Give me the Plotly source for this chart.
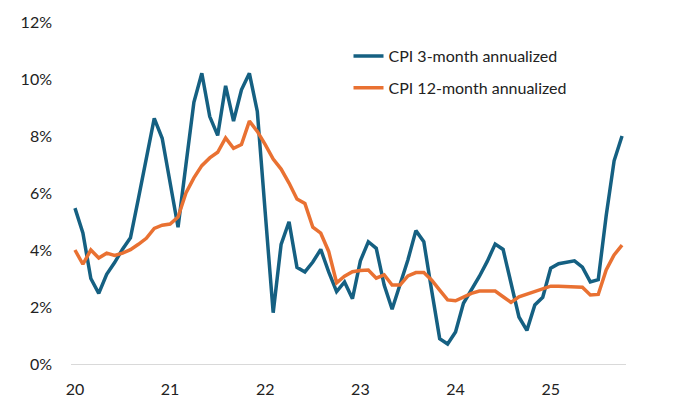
import plotly.graph_objects as go
import pandas as pd

months = [d.strftime("%Y-%m") for d in pd.date_range("2020-01-01", "2025-10-01", freq="MS")]

cpi_3m = [5.47, 4.6, 3.0, 2.48, 3.15, 3.56, 4.03, 4.43, 5.8, 7.2, 8.62, 7.92,
          6.4, 4.8, 7.0, 9.18, 10.2, 8.68, 8.02, 9.76, 8.52, 9.62, 10.2, 8.86,
          5.3, 1.8, 4.2, 4.99, 3.39, 3.23, 3.58, 4.02, 3.23, 2.54, 2.88, 2.29,
          3.62, 4.29, 4.06, 2.77, 1.92, 2.77, 3.66, 4.68, 4.29, 2.56, 0.89, 0.70,
          1.12, 2.13, 2.59, 3.07, 3.6, 4.21, 4.02, 2.86, 1.65, 1.18, 2.07, 2.34,
          3.36, 3.52, 3.58, 3.62, 3.4, 2.88, 2.96, 5.2, 7.13, 8.0]

cpi_12m = [4.0, 3.5, 4.0, 3.72, 3.89, 3.81, 3.89, 4.01, 4.2, 4.41, 4.76, 4.87,
           4.91, 5.16, 6.0, 6.53, 6.96, 7.23, 7.43, 7.93, 7.57, 7.7, 8.52, 8.16,
           7.7, 7.19, 6.84, 6.35, 5.79, 5.63, 4.8, 4.59, 3.95, 2.85, 3.08, 3.24,
           3.28, 3.3, 3.01, 3.13, 2.77, 2.77, 3.09, 3.21, 3.21, 2.94, 2.59, 2.25,
           2.22, 2.36, 2.48, 2.56, 2.57, 2.56, 2.36, 2.16, 2.36, 2.45, 2.54, 2.63,
           2.73, 2.73, 2.72, 2.71, 2.69, 2.42, 2.44, 3.3, 3.83, 4.17]

year_ticks = ["2020-01", "2021-01", "2022-01", "2023-01", "2024-01", "2025-01"]
year_labels = ["20", "21", "22", "23", "24", "25"]
y_ticks = [0, 2, 4, 6, 8, 10, 12]
y_labels = ["0%", "2%", "4%", "6%", "8%", "10%", "12%"]

BLUE = "#156082"
ORANGE = "#E97132"
FONT = "Lato"

fig = go.Figure()
fig.add_trace(go.Scatter(x=months, y=cpi_3m, mode="lines", name="CPI 3-month annualized",
                         line=dict(color=BLUE, width=3.5), legendgroup="a"))
fig.add_trace(go.Scatter(x=months, y=cpi_12m, mode="lines", name="CPI 12-month annualized",
                         line=dict(color=ORANGE, width=3.5), legendgroup="b"))

fig.update_layout(
    width=672, height=400,
    margin=dict(l=63, r=54, t=14, b=44, autoexpand=False),
    paper_bgcolor="white", plot_bgcolor="white",
    font=dict(family=FONT, size=16, color="#222222"),
    showlegend=True,
    legend=dict(x=0.5, y=0.95, xref="paper", yref="paper", xanchor="left", yanchor="top",
                bgcolor="rgba(0,0,0,0)", borderwidth=0, tracegroupgap=8,
                font=dict(family=FONT, size=16, color="#222222")),
    xaxis=dict(type="category", range=[-0.5, 69.5], tickmode="array",
               tickvals=year_ticks, ticktext=year_labels,
               showgrid=False, showline=True, linecolor="#d9d9d9", linewidth=1,
               ticks="", ticklabelstandoff=11, zeroline=False),
    yaxis=dict(range=[0, 12], tickmode="array", tickvals=y_ticks, ticktext=y_labels,
               showgrid=False, showline=False, zeroline=False, ticks="",
               ticklabelstandoff=18),
)

fig.write_html("out.html")
